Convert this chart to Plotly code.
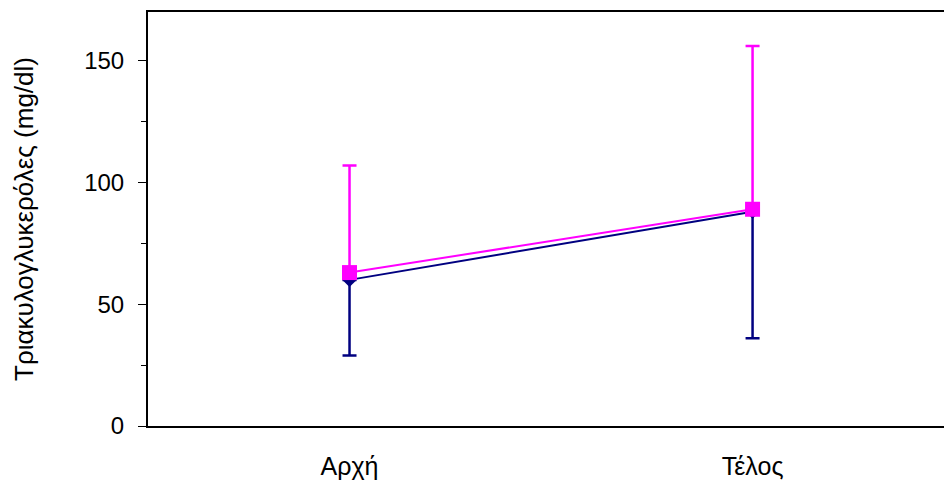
import plotly.graph_objects as go

# Measurement points
categories = ["Αρχή", "Τέλος"]

# Group A (navy): means with downward SD bars
navy_mean = [60, 88]
navy_sd_down = [31, 52]

# Group B (magenta): means with upward SD bars
magenta_mean = [63, 89]
magenta_sd_up = [44, 67]

y_ticks = [0, 50, 100, 150]

x_idx = list(range(len(categories)))
FONT = "Liberation Sans, Arial, sans-serif"

fig = go.Figure()

fig.add_trace(go.Scatter(
    x=x_idx, y=navy_mean,
    mode="lines+markers",
    line=dict(color="#000080", width=2),
    marker=dict(symbol="diamond", size=11, color="#000080"),
    error_y=dict(type="data", symmetric=False,
                 array=[0] * len(navy_mean), arrayminus=navy_sd_down,
                 color="#000080", thickness=2.5, width=7),
    showlegend=False,
))

fig.add_trace(go.Scatter(
    x=x_idx, y=magenta_mean,
    mode="lines+markers",
    line=dict(color="#FF00FF", width=2),
    marker=dict(symbol="square", size=15, color="#FF00FF"),
    error_y=dict(type="data", symmetric=False,
                 array=magenta_sd_up, arrayminus=[0] * len(magenta_mean),
                 color="#FF00FF", thickness=2.5, width=7),
    showlegend=False,
))

fig.update_layout(
    width=944, height=482,
    margin=dict(l=148, r=0, t=12, b=56, pad=0),
    paper_bgcolor="white", plot_bgcolor="white",
    font=dict(family=FONT, size=24, color="black"),
    xaxis=dict(
        range=[-0.5, 1.475],
        tickmode="array", tickvals=x_idx, ticktext=categories,
        ticks="", showgrid=False, zeroline=False,
        showline=True, linecolor="black", linewidth=2, mirror=True,
        ticklabelstandoff=17,
        tickfont=dict(family=FONT, size=25),
    ),
    yaxis=dict(
        range=[0, 170],
        tickmode="array", tickvals=y_ticks,
        ticks="outside", ticklen=8, tickwidth=1, tickcolor="black",
        minor=dict(ticks="outside", ticklen=5, tickwidth=1, tickcolor="black", dtick=25, tick0=0),
        showgrid=False, zeroline=False,
        showline=True, linecolor="black", linewidth=2,
        ticklabelstandoff=9,
        tickfont=dict(family=FONT, size=24),
        title=dict(text="Τριακυλογλυκερόλες (mg/dl)", font=dict(family=FONT, size=26), standoff=43),
    ),
)

fig.write_html("out.html")
